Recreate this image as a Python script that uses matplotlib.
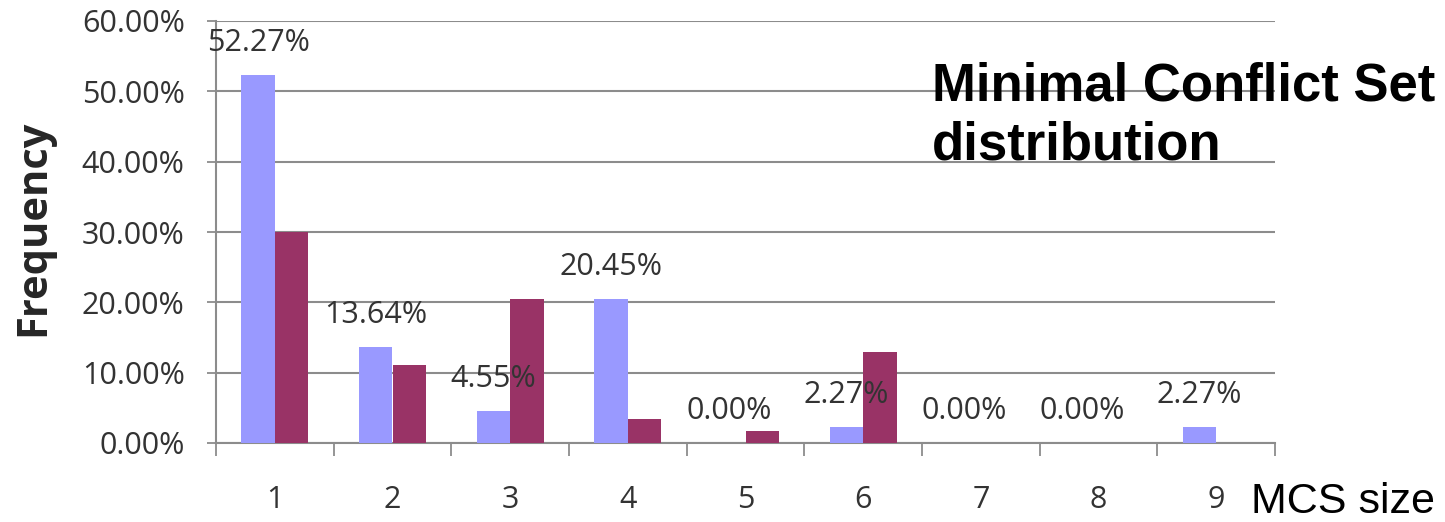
import matplotlib
matplotlib.use("Agg")
import matplotlib.pyplot as plt
import numpy as np

# data
sizes = ["1", "2", "3", "4", "5", "6", "7", "8", "9"]
blue_vals = [52.27, 13.64, 4.55, 20.45, 0.00, 2.27, 0.00, 0.00, 2.27]
red_vals = [30.0, 11.1, 20.5, 3.4, 1.7, 13.0, 0.0, 0.0, 0.0]
blue_labels = ["52.27%", "13.64%", "4.55%", "20.45%", "0.00%", "2.27%", "0.00%", "0.00%", "2.27%"]
y_ticks = [0, 10, 20, 30, 40, 50, 60]

BLUE = "#9999FF"
RED = "#993366"
GRID = "#8c8c8c"
TXT = "#333333"

plt.rcParams['font.family'] = ['Open Sans', 'DejaVu Sans']

fig = plt.figure(figsize=(14.45, 5.22), dpi=100)
ax = fig.add_axes([216 / 1445, 1 - 443 / 522, (1275 - 216) / 1445, (443 - 21) / 522])

x = np.arange(len(sizes)) + 0.5
w = 0.2857
ax.bar(x - w / 2, blue_vals, width=w, color=BLUE, zorder=3)
ax.bar(x + w / 2, red_vals, width=w, color=RED, zorder=3)

# data labels over the blue bars
for xi, v, lab in zip(x - w / 2, blue_vals, blue_labels):
    ax.annotate(lab, (xi, v), xytext=(0, 23), textcoords="offset points",
                ha="center", va="center", fontsize=22, color=TXT,
                zorder=5, annotation_clip=False)

ax.set_xlim(0, 9)
ax.set_ylim(0, 60)
ax.set_yticks(y_ticks)
ax.set_yticklabels(["%.2f%%" % t for t in y_ticks])
ax.yaxis.grid(True, color=GRID, linewidth=1.5, zorder=0)
ax.set_axisbelow(True)

ax.set_xticks(np.arange(0, 10))
ax.set_xticklabels([])
ax.set_xticks(x, minor=True)
ax.set_xticklabels(sizes, minor=True)
ax.tick_params(axis="x", which="major", direction="out", length=9.5, width=1.3, color=GRID)
ax.tick_params(axis="x", which="minor", length=0, pad=30, labelsize=22, labelcolor=TXT)
ax.tick_params(axis="y", direction="out", length=6.5, width=1.3, color=GRID,
               pad=16, labelsize=22, labelcolor=TXT)

for s in ["top", "right"]:
    ax.spines[s].set_visible(False)
for s in ["left", "bottom"]:
    ax.spines[s].set_color(GRID)
    ax.spines[s].set_linewidth(1.5)

fig.text(34 / 1445, 1 - 228 / 522, "Frequency", rotation=90, ha="center", va="center",
         fontsize=30, fontweight="bold", color="#262626")

fig.text(932 / 1445, 1 - 100 / 522, "Minimal Conflict Set", ha="left", va="baseline",
         fontsize=38, fontweight="bold", family="Liberation Sans", color="black")
fig.text(932 / 1445, 1 - 160 / 522, "distribution", ha="left", va="baseline",
         fontsize=38, fontweight="bold", family="Liberation Sans", color="black")

fig.text(1251 / 1445, 1 - 513 / 522, "MCS size", ha="left", va="baseline",
         fontsize=31, family="Liberation Sans", color="black")

fig.savefig("out.png", dpi=100)
